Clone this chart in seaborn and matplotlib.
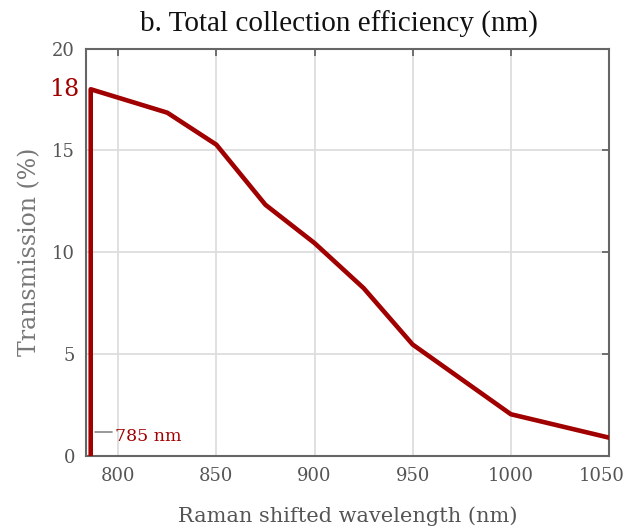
import matplotlib
matplotlib.use("Agg")
import matplotlib.pyplot as plt
import matplotlib.transforms as mtransforms
import seaborn as sns
import pandas as pd

wavelength = [786, 786, 825, 850, 875, 900, 925, 950, 1000, 1050]
transmission = [0, 18, 16.85, 15.28, 12.33, 10.45, 8.24, 5.47, 2.05, 0.9]
xticks = [800, 850, 900, 950, 1000, 1050]
yticks = [0, 5, 10, 15, 20]
peak_label = "18"
laser_label = "785 nm"

sns.set_theme(style="white")
plt.rcParams['font.family'] = ['DejaVu Serif']

RED = "#a00000"
GRAY = "#555555"
SPINE = "#666666"

df = pd.DataFrame({"wl": wavelength, "t": transmission})

fig = plt.figure(figsize=(6.28, 5.31), dpi=100)
ax = fig.add_axes([86/628, 1-456/531, (609-86)/628, (456-48.5)/531])

ax.grid(True, color="#dddddd", linewidth=1.3)
ax.set_axisbelow(True)

sns.lineplot(data=df, x="wl", y="t", sort=False, estimator=None,
             color=RED, linewidth=3.3, ax=ax, zorder=3)

ax.set_xlim(783.6, 1050)
ax.set_ylim(0, 20)
ax.set_xticks(xticks)
ax.set_yticks(yticks)
ax.set_xticklabels([str(v) for v in xticks])
ax.set_yticklabels([str(v) for v in yticks])

ax.tick_params(direction="in", length=5, width=1.3, color=SPINE,
               labelsize=13, labelcolor=GRAY, top=True, right=True,
               pad=8)
for s in ax.spines.values():
    s.set_visible(True)
    s.set_color(SPINE)
    s.set_linewidth(1.5)

# nudge the last x tick label left so it stays inside the figure
last = ax.get_xticklabels()[-1]
last.set_transform(last.get_transform() +
                   mtransforms.ScaledTranslation(-7/100, 0, fig.dpi_scale_trans))

ax.text(-0.012, 18, peak_label, transform=ax.get_yaxis_transform(),
        ha="right", va="center", color=RED, fontsize=17)

ax.plot([788.3, 797.0], [1.2, 1.2], color="#888888", linewidth=1.2, zorder=4)
ax.text(798.3, 0.95, laser_label, color=RED, fontsize=12.5,
        va="center", ha="left", zorder=4)

ax.set_xlabel("Raman shifted wavelength (nm)", color=GRAY, fontsize=15, labelpad=15)
ax.set_ylabel("Transmission (%)", color="#777777", fontsize=17, labelpad=8)
ax.set_title("b. Total collection efficiency (nm)", fontsize=21,
             family="Liberation Serif", color="#111111", pad=12)
ax.title.set_x((339 - 86) / 523)

fig.savefig("out.png", dpi=100)
